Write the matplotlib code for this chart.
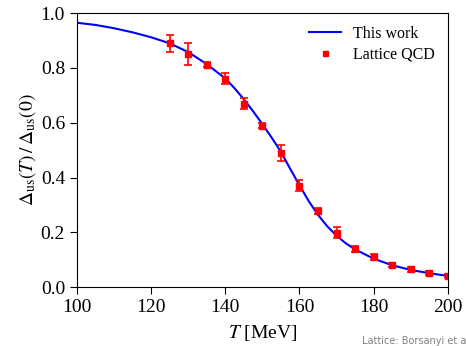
import numpy as np
import matplotlib.pyplot as plt

plt.rcParams['font.family'] = ['Liberation Serif', 'DejaVu Serif']
plt.rcParams['mathtext.fontset'] = 'stix'

# curva del modelo
T_curve = [100, 105, 110, 115, 120, 125, 130, 135, 140, 142.5, 145, 147.5,
           150, 152.5, 155, 157.5, 160, 162.5, 165, 167.5, 170, 172.5, 175,
           180, 185, 190, 195, 200]
D_curve = [0.965, 0.957, 0.945, 0.930, 0.912, 0.890, 0.858, 0.814, 0.762,
           0.726, 0.686, 0.642, 0.595, 0.546, 0.494, 0.432, 0.372, 0.314,
           0.264, 0.222, 0.188, 0.160, 0.138, 0.104, 0.080, 0.063, 0.051,
           0.041]

# datos de lattice QCD
T_lat = [125, 130, 135, 140, 145, 150, 155, 160, 165, 170, 175, 180,
         185, 190, 195, 200]
D_lat = [0.890, 0.850, 0.812, 0.760, 0.670, 0.590, 0.490, 0.370, 0.278,
         0.199, 0.140, 0.110, 0.080, 0.065, 0.052, 0.040]
err_lat = [0.030, 0.040, 0.010, 0.020, 0.020, 0.008, 0.028, 0.020, 0.010,
           0.020, 0.010, 0.010, 0.008, 0.008, 0.008, 0.008]

fig = plt.figure(figsize=(4.66, 3.46), dpi=100)
ax = fig.add_axes([0.165, 0.170, 0.796, 0.792])

ax.plot(T_curve, D_curve, color='blue', lw=1.5, label='This work')
ax.errorbar(T_lat, D_lat, yerr=err_lat, fmt='none', ecolor='red',
            elinewidth=1.2, capsize=3, capthick=1.2)
ax.plot(T_lat, D_lat, 's', color='red', ms=4.5, label='Lattice QCD')

ax.set_xlim(100, 200)
ax.set_ylim(0, 1.0)
ax.set_xticks([100, 120, 140, 160, 180, 200])
ax.set_yticks([0.0, 0.2, 0.4, 0.6, 0.8, 1.0])
ax.tick_params(labelsize=14, length=5)
ax.set_xlabel(r'$T$ [MeV]', fontsize=14, labelpad=5)
ax.set_ylabel(r'$\Delta_{\rm us}(T)\,/\,\Delta_{\rm us}(0)$', fontsize=14,
              labelpad=2)

ax.legend(loc='upper right', frameon=False, fontsize=11.5, markerscale=0.8,
          handlelength=2.0, borderaxespad=0.4, labelspacing=0.3)

fig.text(0.777, 0.005, 'Lattice: Borsanyi et al.', color='gray',
         fontsize=7, family='DejaVu Sans')

plt.savefig('out.png', dpi=100)
